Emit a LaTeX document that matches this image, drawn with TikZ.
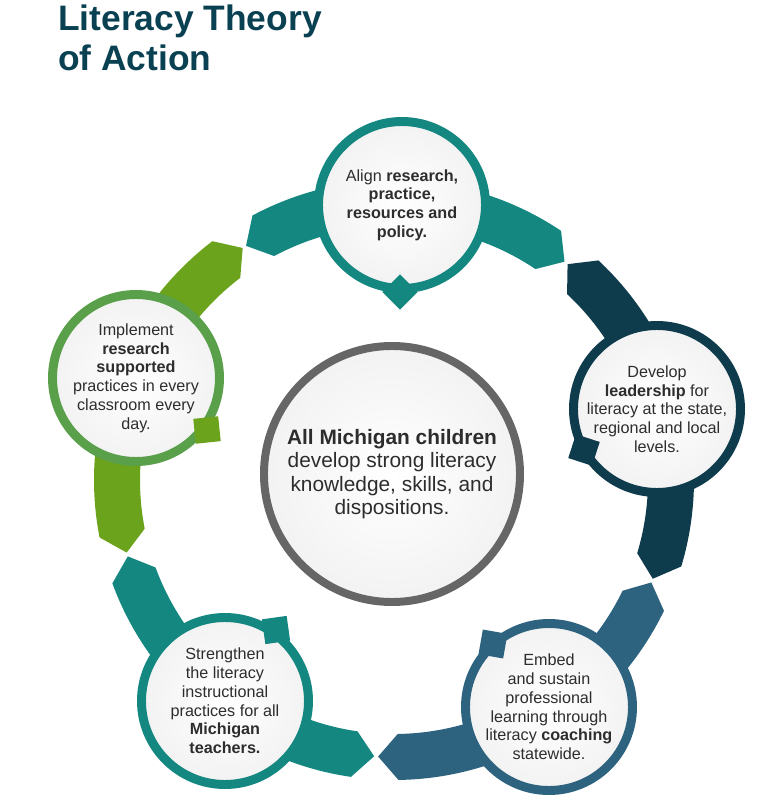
\documentclass[tikz,border=0pt]{standalone}
\usepackage{fontspec}
\setmainfont{Liberation Sans}

\definecolor{titleteal}{RGB}{10,65,82}
\definecolor{armteal}{RGB}{19,135,128}
\definecolor{armnavy}{RGB}{15,60,76}
\definecolor{armblue}{RGB}{46,99,128}
\definecolor{armgreen}{RGB}{108,163,28}
\definecolor{ringgreen}{RGB}{90,160,74}
\definecolor{coregray}{RGB}{102,102,102}
\definecolor{bodytext}{RGB}{45,45,45}

% one coloured piece of the ring, pointed at both ends
\newcommand{\ringarm}[3]{%
  \fill[#1] ({#2+4.55}:254) arc[start angle={#2+4.55}, end angle={#3-4.55}, radius=254]
    -- ({#3-0.41}:277) -- ({#3-4.55}:300)
    arc[start angle={#3-4.55}, end angle={#2+4.55}, radius=300]
    -- ({#2+0.41}:277) -- cycle;}

\begin{document}
\begin{tikzpicture}[x=0.03cm, y=0.03cm,
    goal/.style={circle, line width=7.65pt, minimum size=5.01cm, inner sep=0pt, align=center,
      text=bodytext, font=\fontsize{13.8}{16}\selectfont, inner color=white, outer color=black!5},
    core/.style={circle, draw=coregray, line width=6.8pt, minimum size=7.68cm, inner sep=0pt, align=center,
      text=bodytext, font=\fontsize{17.8}{20}\selectfont, inner color=white, outer color=black!5},
    tab/.style={rectangle, minimum size=0.75cm, inner sep=0pt},
    heading/.style={anchor=base west, inner sep=0pt, text=titleteal, font=\fontsize{30.2}{34}\selectfont\bfseries}]
    \useasboundingbox (-394,-324) rectangle (380,480);

    \node[heading] (head1) at (-336,449) {Literacy Theory};
    \node[heading] (head2) at (-336,409) {of Action};

    % ring pieces
    \ringarm{armteal}{51.6}{122.7}
    \ringarm{armnavy}{-21.3}{51.6}
    \ringarm{armblue}{-93.7}{-21.3}
    \ringarm{armteal}{-164.4}{-93.7}
    \ringarm{armgreen}{122.7}{195.6}

    \node[core] (children) at (-2,6) {\textbf{All Michigan children}\\develop strong literacy\\knowledge, skills, and\\dispositions.};

    \node[goal, draw=armteal] (align) at (8,275) {Align \textbf{research,}\\\textbf{practice,}\\\textbf{resources and}\\\textbf{policy.}};
    \node[goal, draw=armnavy] (lead) at (263,71) {Develop\\\textbf{leadership} for\\literacy at the state,\\regional and local\\levels.};
    \node[goal, draw=armblue] (coach) at (155,-227) {Embed\\and sustain\\professional\\learning through\\literacy \textbf{coaching}\\statewide.};
    \node[goal, draw=armteal] (teach) at (-169,-221) {Strengthen\\the literacy\\instructional\\practices for all\\\textbf{Michigan}\\\textbf{teachers.}};
    \node[goal, draw=ringgreen] (class) at (-258,102) {Implement\\\textbf{research}\\\textbf{supported}\\practices in every\\classroom every\\day.};

    % small tabs facing the middle
    \node[tab, fill=armteal, rotate=45] (aligntab) at (6,188) {};
    \node[tab, fill=armnavy, rotate=-18] (leadtab) at (190,30) {};
    \node[tab, fill=armblue, rotate=-10] (coachtab) at (99,-164) {};
    \node[tab, fill=armteal, rotate=8] (teachtab) at (-118,-150) {};
    \node[tab, fill=armgreen, rotate=6] (classtab) at (-187,50) {};
\end{tikzpicture}
\end{document}
